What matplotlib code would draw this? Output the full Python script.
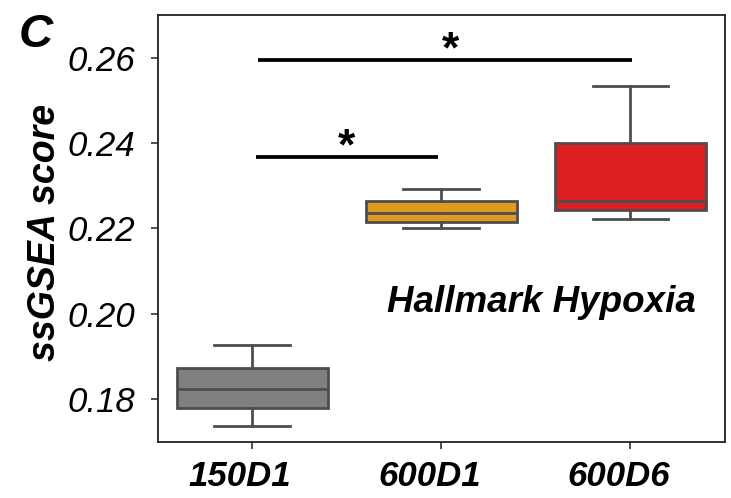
import matplotlib
matplotlib.use('Agg')
import matplotlib.pyplot as plt
import matplotlib.transforms as mtransforms

# box statistics
groups = ['150D1', '600D1', '600D6']
whislo = [0.1738, 0.2201, 0.2223]
q1 = [0.1780, 0.2216, 0.2244]
med = [0.1823, 0.2235, 0.2265]
q3 = [0.1873, 0.2263, 0.2400]
whishi = [0.1926, 0.2291, 0.2534]
colors = ['#808080', '#E09A1F', '#DE1F22']

# significance brackets: (x start, x end, height, star x)
sig_pairs = [(0.02, 0.985, 0.2368, 0.5), (0.03, 2.01, 0.2595, 1.05)]

plt.rcParams['font.family'] = ['Liberation Sans', 'DejaVu Sans']

fig = plt.figure(figsize=(7.31, 4.98), dpi=100)
ax = fig.add_axes([0.2157, 0.113, 0.776, 0.857])

stats = []
for i, g in enumerate(groups):
    stats.append(dict(label=g, whislo=whislo[i], q1=q1[i], med=med[i],
                      q3=q3[i], whishi=whishi[i], fliers=[]))

edge = '#4d4d4d'
bp = ax.bxp(stats, positions=range(len(groups)), widths=0.8, patch_artist=True,
            showfliers=False,
            boxprops=dict(edgecolor=edge, linewidth=2.0),
            medianprops=dict(color=edge, linewidth=2.0),
            whiskerprops=dict(color=edge, linewidth=2.0),
            capprops=dict(color=edge, linewidth=2.0))
for patch, c in zip(bp['boxes'], colors):
    patch.set_facecolor(c)

for a, b, h, sx in sig_pairs:
    ax.plot([a, b], [h, h], color='black', lw=2.7, solid_capstyle='butt')
    ax.text(sx, h - 0.0027, '*', ha='center', va='bottom', fontsize=32,
            fontweight='bold', color='black')

ax.set_xlim(-0.5, 2.5)
ax.set_ylim(0.170, 0.270)
ax.set_yticks([0.18, 0.20, 0.22, 0.24, 0.26])
ax.set_yticklabels(['0.18', '0.20', '0.22', '0.24', '0.26'], fontsize=25, fontstyle='italic')
ax.set_xticks(range(len(groups)))
ax.set_xticklabels(groups, fontsize=25, fontstyle='italic', fontweight='bold')
ax.tick_params(axis='both', length=5, width=1.2, color='#333333')
ax.tick_params(axis='y', pad=11)
ax.tick_params(axis='x', pad=8)
shift = mtransforms.ScaledTranslation(-0.12, 0, fig.dpi_scale_trans)
for lab in ax.get_xticklabels():
    lab.set_transform(lab.get_transform() + shift)
for s in ax.spines.values():
    s.set_linewidth(1.3)
    s.set_color('#222222')

ax.set_ylabel('ssGSEA score', fontsize=27, fontweight='bold', fontstyle='italic')
ax.yaxis.set_label_coords(-0.167, 0.49)

ax.text(1.53, 0.2003, 'Hallmark Hypoxia', ha='center', va='baseline', fontsize=26.5,
        fontweight='bold', fontstyle='italic')
fig.text(0.026, 0.906, 'C', fontsize=34, fontweight='bold', fontstyle='italic')

fig.savefig('out.png', dpi=100)
